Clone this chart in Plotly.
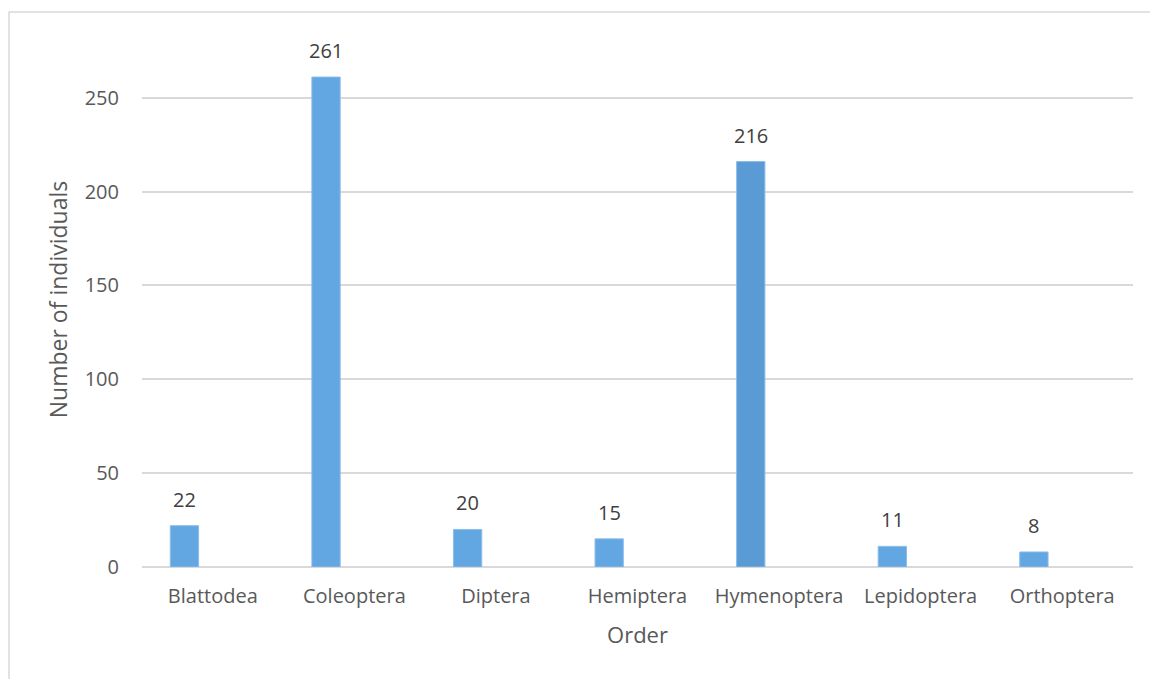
import plotly.graph_objects as go

# Insect orders and counts of individuals collected
orders = ["Blattodea", "Coleoptera", "Diptera", "Hemiptera", "Hymenoptera", "Lepidoptera", "Orthoptera"]
counts = [22, 261, 20, 15, 216, 11, 8]
bar_colors = ["#62A6E2", "#62A6E2", "#62A6E2", "#62A6E2", "#5B9BD5", "#62A6E2", "#62A6E2"]

FONT = "Open Sans, sans-serif"
BAR_OFFSET = -0.3
BAR_WIDTH = 0.2

fig = go.Figure()
fig.add_trace(go.Bar(
    x=orders,
    y=counts,
    marker=dict(color=bar_colors, line=dict(color="#8DBDEA", width=1)),
    offset=BAR_OFFSET,
    width=BAR_WIDTH,
    hoverinfo="x+y",
))

# value labels above each bar
for i, v in enumerate(counts):
    fig.add_annotation(
        x=i + BAR_OFFSET + BAR_WIDTH / 2, y=v, text=str(v),
        xref="x", yref="y", showarrow=False, yanchor="bottom", yshift=11,
        font=dict(family=FONT, size=20, color="#404040"),
    )

# chart frame
fig.add_shape(type="rect", xref="paper", yref="paper",
              x0=-0.1342, x1=1.1, y0=-0.4, y1=1.0374,
              line=dict(color="#D9D9D9", width=1.5), layer="below")

fig.update_layout(
    width=1150, height=679,
    margin=dict(l=142, r=17, t=32, b=112),
    paper_bgcolor="white", plot_bgcolor="white",
    showlegend=False,
    font=dict(family=FONT, size=20, color="#595959"),
    xaxis=dict(
        type="category", range=[-0.5, 6.5],
        showgrid=False, showline=False, zeroline=False,
        ticks="", ticklabelstandoff=15,
        tickfont=dict(family=FONT, size=20, color="#595959"),
        title=dict(text="Order", font=dict(family=FONT, size=22, color="#595959"), standoff=19),
    ),
    yaxis=dict(
        range=[0, 285], tick0=0, dtick=50,
        showgrid=True, gridcolor="#D9D9D9", gridwidth=1.5,
        zeroline=True, zerolinecolor="#D9D9D9", zerolinewidth=1.5,
        showline=False, ticks="", ticklabelstandoff=22,
        tickfont=dict(family=FONT, size=20, color="#595959"),
        title=dict(text="Number of individuals", font=dict(family=FONT, size=23, color="#595959"), standoff=10),
    ),
)

fig.write_html("out.html")
